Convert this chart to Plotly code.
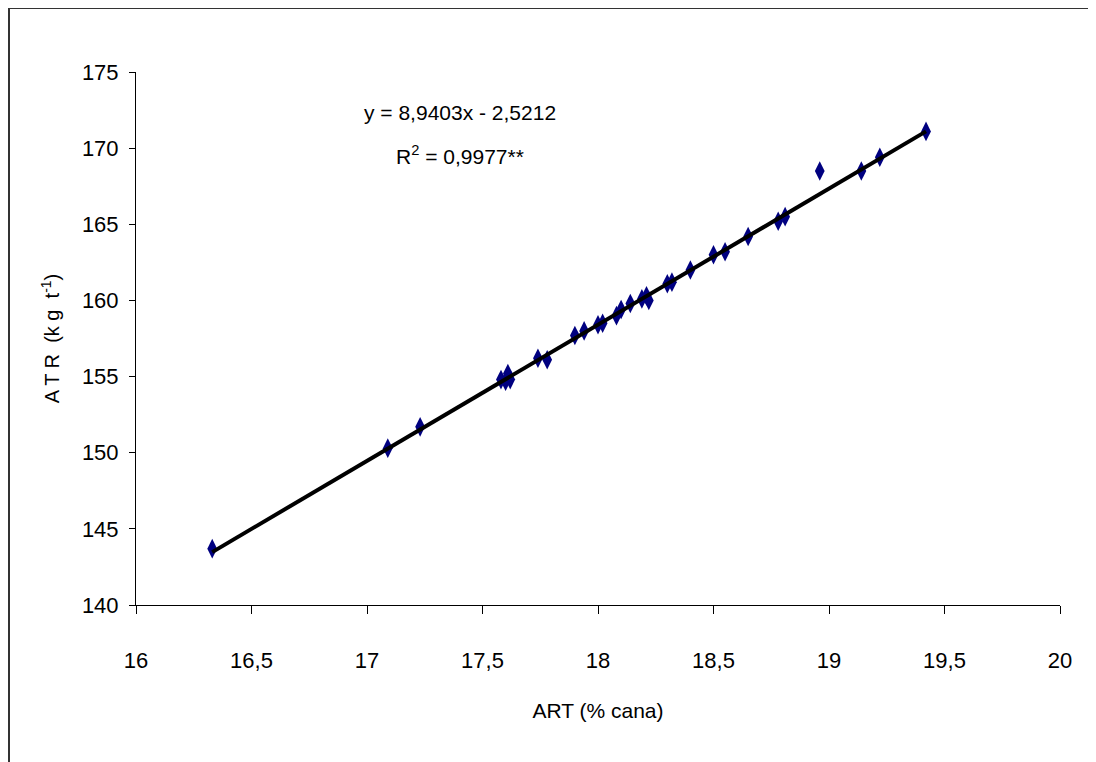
import plotly.graph_objects as go

art = [16.33, 17.09, 17.23, 17.58, 17.60, 17.61, 17.62, 17.74, 17.78, 17.90, 17.94,
       18.00, 18.02, 18.08, 18.10, 18.14, 18.19, 18.21, 18.22, 18.30, 18.32, 18.40,
       18.50, 18.55, 18.65, 18.78, 18.81, 18.96, 19.14, 19.22, 19.42]
atr = [143.7, 150.3, 151.7, 154.8, 154.7, 155.2, 154.8, 156.2, 156.1, 157.7, 158.0,
       158.4, 158.5, 159.0, 159.4, 159.8, 160.1, 160.3, 160.0, 161.1, 161.2, 162.0,
       163.0, 163.2, 164.2, 165.2, 165.5, 168.5, 168.5, 169.4, 171.1]
slope = 8.9403
intercept = -2.5212
x_ticks = [16, 16.5, 17, 17.5, 18, 18.5, 19, 19.5, 20]
x_tick_text = ["16", "16,5", "17", "17,5", "18", "18,5", "19", "19,5", "20"]
y_ticks = [140, 145, 150, 155, 160, 165, 170, 175]

FONT = "Liberation Sans Narrow, Arial Narrow, Liberation Sans, Arial, sans-serif"

fit_x = [min(art), max(art)]
fit_y = [slope * v + intercept for v in fit_x]

# figure geometry (page has an 8px body offset)
L, R, T, B = 128, 44, 64, 165
PW, PH = 1096 - L - R, 762 - T - B


def px(x):
    return (x - L) / PW


def py(y):
    return (762 - B - y) / PH


fig = go.Figure()
fig.add_trace(go.Scatter(
    x=art, y=atr, mode="markers",
    marker=dict(symbol="diamond-tall", size=14, color="#000080",
                line=dict(width=0)),
    showlegend=False, hoverinfo="x+y"))
fig.add_trace(go.Scatter(
    x=fit_x, y=fit_y, mode="lines",
    line=dict(color="black", width=4),
    showlegend=False, hoverinfo="skip"))

fig.update_layout(
    width=1096, height=762,
    margin=dict(l=L, r=R, t=T, b=B),
    paper_bgcolor="white", plot_bgcolor="white",
    font=dict(family=FONT, size=22, color="black"),
    xaxis=dict(range=[16, 20], tickvals=x_ticks, ticktext=x_tick_text,
               showgrid=False, zeroline=False, showline=True,
               linecolor="black", linewidth=1, ticks="outside",
               ticklen=8, tickcolor="black", ticklabelstandoff=28,
               tickfont=dict(family=FONT, size=22),
               title=dict(text="ART (% cana)", standoff=30,
                          font=dict(family=FONT, size=21))),
    yaxis=dict(range=[140, 175], tickvals=y_ticks,
               showgrid=False, zeroline=False, showline=True,
               linecolor="black", linewidth=1, ticks="outside",
               ticklen=6, tickcolor="black", ticklabelstandoff=6,
               tickfont=dict(family=FONT, size=22),
               title=dict(text="A T R  (k g  t<sup>-1</sup>)", standoff=16,
                          font=dict(family=FONT, size=20))),
    shapes=[dict(type="rect", xref="paper", yref="paper",
                 x0=px(1), x1=px(1086), y0=py(800), y1=py(0),
                 line=dict(color="#333333", width=2), layer="below")],
    annotations=[
        dict(text="y = 8,9403x - 2,5212", xref="paper", yref="paper",
             x=px(452), y=py(104), showarrow=False,
             xanchor="center", yanchor="middle",
             font=dict(family=FONT, size=21)),
        dict(text="R<sup>2</sup> = 0,9977**", xref="paper", yref="paper",
             x=px(452), y=py(147), showarrow=False,
             xanchor="center", yanchor="middle",
             font=dict(family=FONT, size=21)),
    ],
)

fig.write_html("out.html")
